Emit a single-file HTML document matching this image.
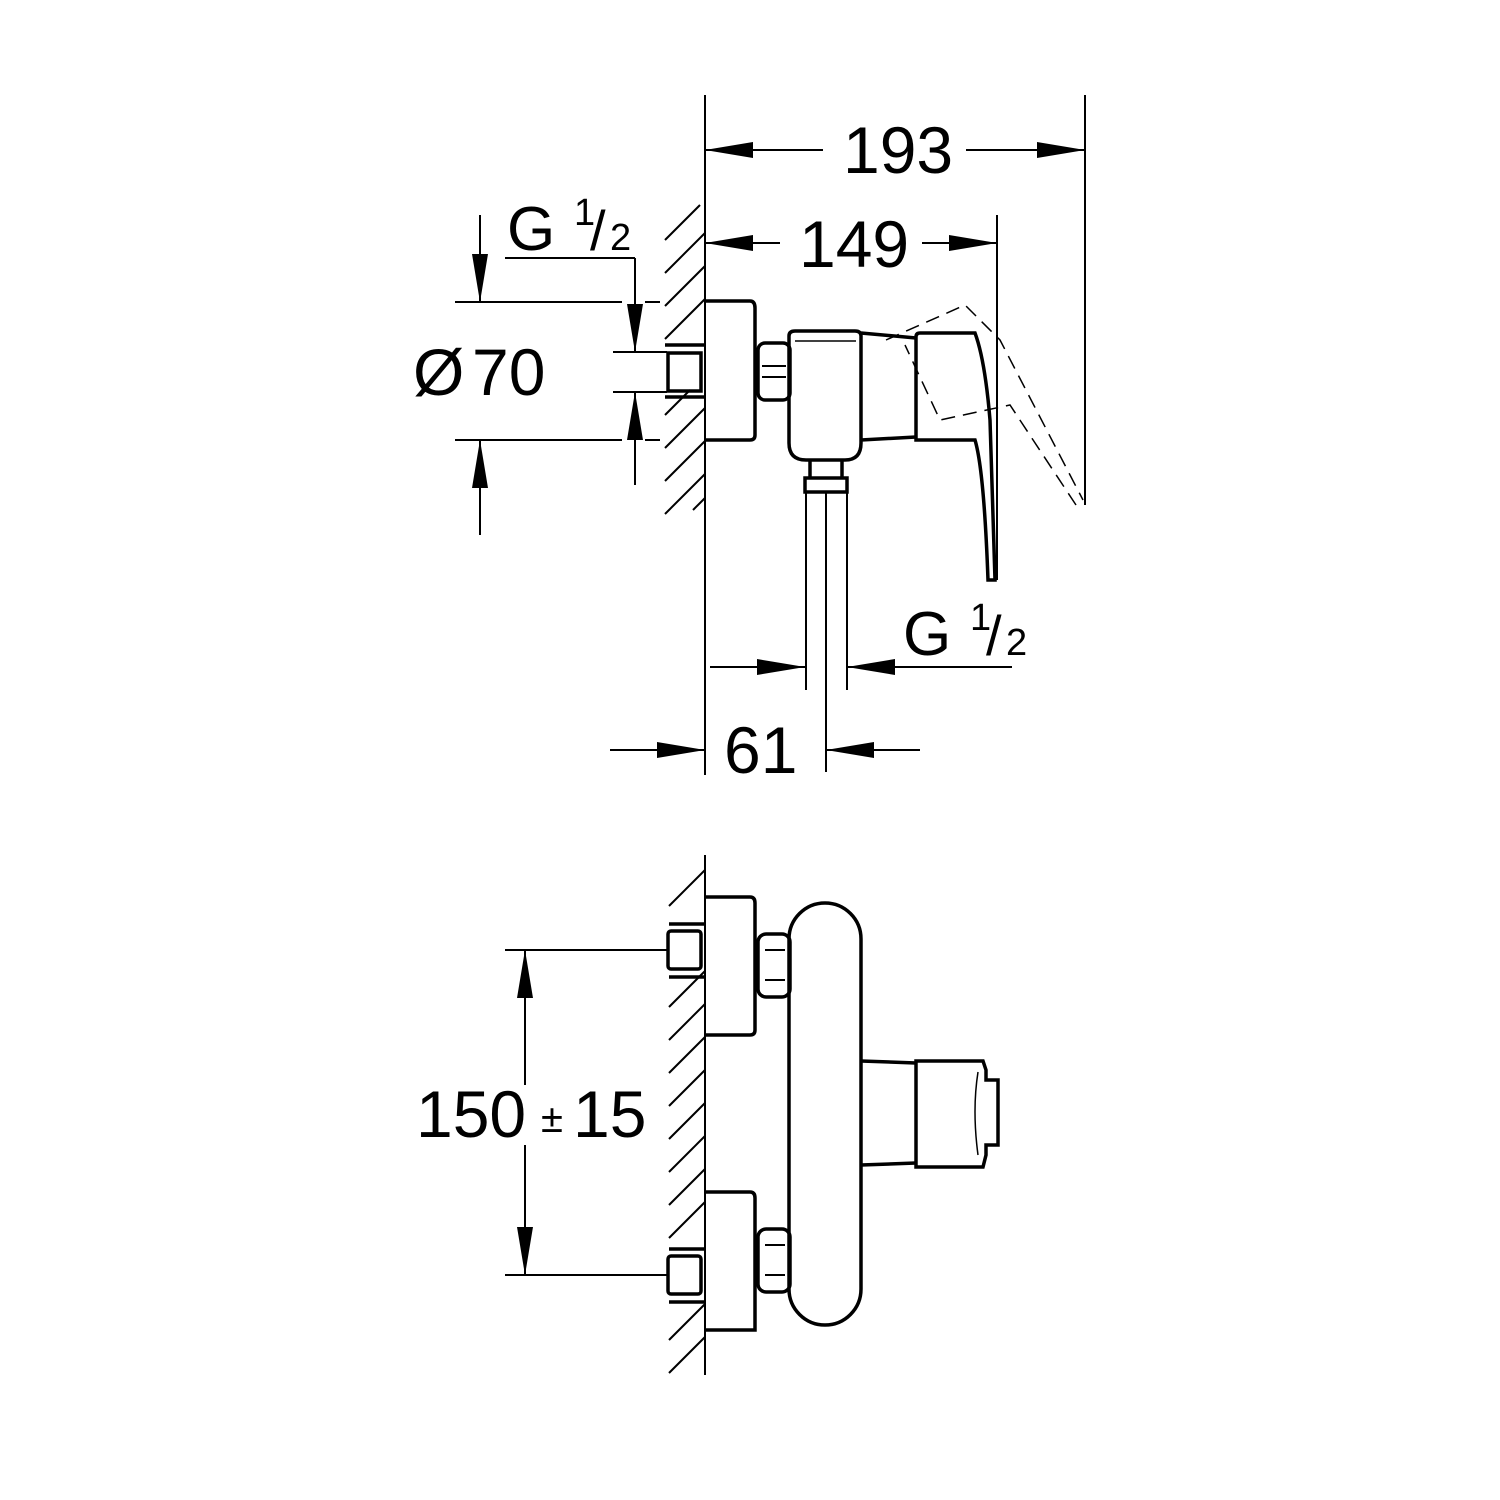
<!DOCTYPE html>
<html><head><meta charset="utf-8"><style>html,body{margin:0;padding:0;background:#fff}svg{display:block}text{font-family:"Liberation Sans",sans-serif;fill:#000}</style></head><body>
<svg width="1500" height="1500" viewBox="0 0 1500 1500" xmlns="http://www.w3.org/2000/svg">
<defs>
<marker id="a" viewBox="0 0 48 16" refX="48" refY="8" markerWidth="48" markerHeight="16" markerUnits="userSpaceOnUse" orient="auto"><path d="M0,0 L48,8 L0,16Z" fill="#000"/></marker>
</defs>
<g stroke="#000" fill="none" stroke-width="2">
<g stroke-width="2">
<line x1="665" y1="240" x2="700" y2="205"/><line x1="665" y1="273" x2="705" y2="233"/><line x1="665" y1="306" x2="705" y2="266"/><line x1="665" y1="339" x2="705" y2="299"/>
<line x1="665" y1="415" x2="690" y2="390"/><line x1="665" y1="448" x2="705" y2="408"/><line x1="665" y1="481" x2="705" y2="441"/><line x1="665" y1="514" x2="705" y2="474"/><line x1="693" y1="510" x2="705" y2="498"/>
</g>
<g stroke-width="2">
<line x1="669" y1="906" x2="705" y2="870"/><line x1="669" y1="1007" x2="705" y2="971"/><line x1="669" y1="1040" x2="705" y2="1004"/><line x1="669" y1="1073" x2="705" y2="1037"/><line x1="669" y1="1106" x2="705" y2="1070"/><line x1="669" y1="1139" x2="705" y2="1103"/><line x1="669" y1="1172" x2="705" y2="1136"/><line x1="669" y1="1205" x2="705" y2="1169"/><line x1="669" y1="1238" x2="705" y2="1202"/><line x1="669" y1="1340" x2="705" y2="1304"/><line x1="669" y1="1373" x2="705" y2="1337"/>
</g>
<line x1="705" y1="95" x2="705" y2="775"/>
<line x1="705" y1="855" x2="705" y2="1375"/>
<g stroke-width="3.5">
<path d="M705,301 H750 Q755,301 755,308 V435 Q755,440 750,440 H705"/>
<rect x="668" y="353" width="33" height="38"/>
<line x1="665" y1="345" x2="705" y2="345"/><line x1="665" y1="397" x2="705" y2="397"/>
<rect x="758" y="343" width="32" height="57" rx="7"/>
<path d="M789,336 Q789,331 795,331 H855 Q861,331 861,336 V443 Q861,460 845,460 H806 Q789,460 789,443 Z"/>
<path d="M861,333 L916,338 M861,440 L916,437"/>
<path d="M916,337 Q916,333 920,333 H975 Q985,360 990,420 L995,580 H988 Q984,470 975,440 H916 Z"/>
<rect x="805" y="478" width="42" height="14"/>
<path d="M810,460 V478 M842,460 V478"/>
</g>
<path d="M762,366 H786 M762,377 H786" stroke-width="2"/>
<line x1="795" y1="341" x2="856" y2="341" stroke-width="1.5"/>
<path d="M806,492 V690 M826,492 V772 M847,492 V690" stroke-width="2"/>
<path d="M886,340 L965,305 L1000,340 L1083,500 M1076,505 L1010,405 L940,420 L905,345" stroke-dasharray="14,8" stroke-width="1.5"/>
<line x1="1085" y1="95" x2="1085" y2="505"/>
<line x1="997" y1="215" x2="997" y2="580"/>
<line x1="823" y1="150" x2="705" y2="150" marker-end="url(#a)"/>
<line x1="966" y1="150" x2="1085" y2="150" marker-end="url(#a)"/>
<line x1="780" y1="243" x2="705" y2="243" marker-end="url(#a)"/>
<line x1="922" y1="243" x2="997" y2="243" marker-end="url(#a)"/>
<line x1="455" y1="302" x2="622" y2="302"/><line x1="645" y1="302" x2="660" y2="302"/>
<line x1="455" y1="440" x2="622" y2="440"/><line x1="645" y1="440" x2="660" y2="440"/>
<line x1="480" y1="215" x2="480" y2="302" marker-end="url(#a)"/>
<line x1="480" y1="535" x2="480" y2="440" marker-end="url(#a)"/>
<line x1="505" y1="258" x2="635" y2="258"/>
<line x1="635" y1="258" x2="635" y2="352" marker-end="url(#a)"/>
<line x1="635" y1="485" x2="635" y2="392" marker-end="url(#a)"/>
<line x1="613" y1="352" x2="667" y2="352"/><line x1="613" y1="392" x2="667" y2="392"/>
<line x1="710" y1="667" x2="805" y2="667" marker-end="url(#a)"/>
<line x1="1012" y1="667" x2="847" y2="667" marker-end="url(#a)"/>
<line x1="610" y1="750" x2="705" y2="750" marker-end="url(#a)"/>
<line x1="920" y1="750" x2="826" y2="750" marker-end="url(#a)"/>
<g stroke-width="3.5">
<path d="M705,897 H750 Q755,897 755,903 V1030 Q755,1035 750,1035 H705"/>
<path d="M705,1192 H750 Q755,1192 755,1198 V1330 H705"/>
<rect x="668" y="931" width="33" height="38" rx="3"/>
<rect x="668" y="1256" width="33" height="38" rx="3"/>
<line x1="669" y1="924" x2="705" y2="924"/><line x1="669" y1="977" x2="705" y2="977"/>
<line x1="669" y1="1249" x2="705" y2="1249"/><line x1="669" y1="1302" x2="705" y2="1302"/>
<rect x="758" y="934" width="32" height="63" rx="8"/>
<rect x="758" y="1229" width="32" height="63" rx="8"/>
<rect x="789" y="903" width="72" height="422" rx="36"/>
<path d="M861,1061 L916,1063 M861,1165 L916,1163"/>
<path d="M916,1061 H983 L986,1070 V1080 H998 V1145 H986 V1155 L983,1167 H916 Z"/>
</g>
<path d="M765,950 H785 M765,980 H785 M765,1245 H785 M765,1275 H785" stroke-width="2"/>
<path d="M978,1072 Q972,1110 978,1155" stroke-width="1.5"/>
<line x1="505" y1="950" x2="667" y2="950"/>
<line x1="505" y1="1275" x2="667" y2="1275"/>
<line x1="525" y1="1085" x2="525" y2="950" marker-end="url(#a)"/>
<line x1="525" y1="1145" x2="525" y2="1275" marker-end="url(#a)"/>
</g>
<g font-size="66">
<text x="843" y="173">193</text>
<text x="799" y="267">149</text>
<text x="413" y="395">Ø</text>
<text x="472" y="395">70</text>
<text x="724" y="773">61</text>
<text x="416" y="1137">150</text>
<text x="573" y="1137">15</text>
</g>
<text x="541" y="1132" font-size="40">±</text>
<g>
<text x="507" y="250" font-size="62">G</text><text x="574" y="225" font-size="38">1</text><text x="590" y="250" font-size="56">/</text><text x="610" y="250" font-size="38">2</text>
<text x="903" y="655" font-size="62">G</text><text x="970" y="630" font-size="38">1</text><text x="986" y="655" font-size="56">/</text><text x="1006" y="655" font-size="38">2</text>
</g>
</svg>
</body></html>
